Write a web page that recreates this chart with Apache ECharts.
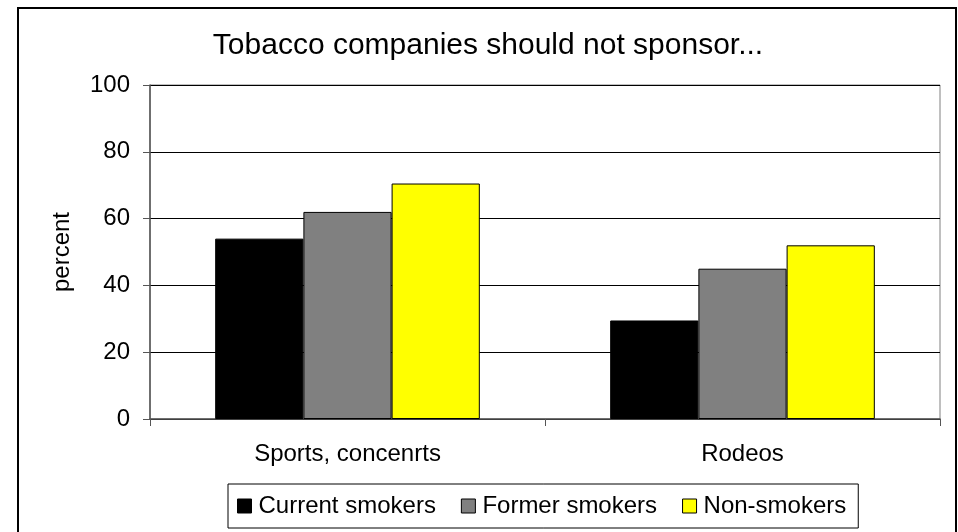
<!DOCTYPE html>
<html>
<head>
<meta charset="utf-8">
<script src="https://cdn.jsdelivr.net/npm/echarts@6/dist/echarts.min.js"></script>
<style>
  html, body { margin: 0; padding: 0; background: #ffffff; }
  #chart { width: 958px; height: 532px; }
</style>
</head>
<body>
<div id="chart"></div>
<script>
// Survey: share agreeing tobacco companies should not sponsor events
const categories = ['Sports, concenrts', 'Rodeos'];
const currentSmokers = [54, 29.5];
const formerSmokers = [62, 45];
const nonSmokers = [70.5, 52];
const yTicks = [0, 20, 40, 60, 80, 100];

const FONT = 'Liberation Sans, Arial, sans-serif';

const chart = echarts.init(document.getElementById('chart'), null, { renderer: 'canvas' });

function barSeries(name, data, color) {
  return {
    name: name,
    type: 'bar',
    data: data,
    barGap: '0%',
    barCategoryGap: '33%',
    itemStyle: { color: color, borderColor: '#000000', borderWidth: 1 },
    emphasis: { disabled: true },
    animation: false
  };
}

chart.setOption({
  backgroundColor: '#ffffff',
  animation: false,
  title: {
    text: 'Tobacco companies should not sponsor...',
    left: 483,
    top: 26,
    textAlign: 'center',
    textStyle: { fontFamily: FONT, fontSize: 30, fontWeight: 'normal', color: '#000000' }
  },
  graphic: [
    {
      type: 'rect',
      shape: { x: 18, y: 8, width: 938, height: 540 },
      style: { fill: 'none', stroke: '#000000', lineWidth: 2 },
      silent: true
    }
  ],
  grid: {
    left: 150,
    right: 18,
    top: 85,
    bottom: 113,
    show: true,
    borderColor: '#808080',
    borderWidth: 1,
    backgroundColor: '#ffffff'
  },
  legend: {
    data: ['Current smokers', 'Former smokers', 'Non-smokers'],
    left: 228,
    top: 484,
    orient: 'horizontal',
    icon: 'rect',
    itemWidth: 14,
    itemHeight: 14,
    itemGap: 25,
    padding: [10, 12, 10, 9],
    borderColor: '#000000',
    borderWidth: 1,
    itemStyle: { borderColor: '#000000', borderWidth: 1 },
    textStyle: { fontFamily: FONT, fontSize: 24, color: '#000000', padding: [0, 0, 0, 2] },
    selectedMode: false
  },
  xAxis: {
    type: 'category',
    data: categories,
    boundaryGap: true,
    axisLine: { show: true, lineStyle: { color: '#555555', width: 1.5 } },
    axisTick: { show: true, length: 7, inside: false, lineStyle: { color: '#555555' } },
    axisLabel: { fontFamily: FONT, fontSize: 24, color: '#000000', margin: 23 },
    splitLine: { show: false }
  },
  yAxis: {
    type: 'value',
    min: 0,
    max: 100,
    interval: 20,
    name: 'percent',
    nameLocation: 'middle',
    nameGap: 76,
    nameRotate: 90,
    nameTextStyle: { fontFamily: FONT, fontSize: 24, color: '#000000' },
    axisLine: { show: true, lineStyle: { color: '#555555', width: 1.5 } },
    axisTick: { show: true, length: 7, inside: false, lineStyle: { color: '#555555' } },
    axisLabel: {
      fontFamily: FONT, fontSize: 24, color: '#000000', margin: 20,
      formatter: function (v) { return yTicks.indexOf(v) >= 0 ? String(v) : ''; }
    },
    splitLine: { show: true, lineStyle: { color: '#000000', width: 1 } }
  },
  series: [
    barSeries('Current smokers', currentSmokers, '#000000'),
    barSeries('Former smokers', formerSmokers, '#808080'),
    barSeries('Non-smokers', nonSmokers, '#ffff00')
  ]
});
</script>
</body>
</html>
